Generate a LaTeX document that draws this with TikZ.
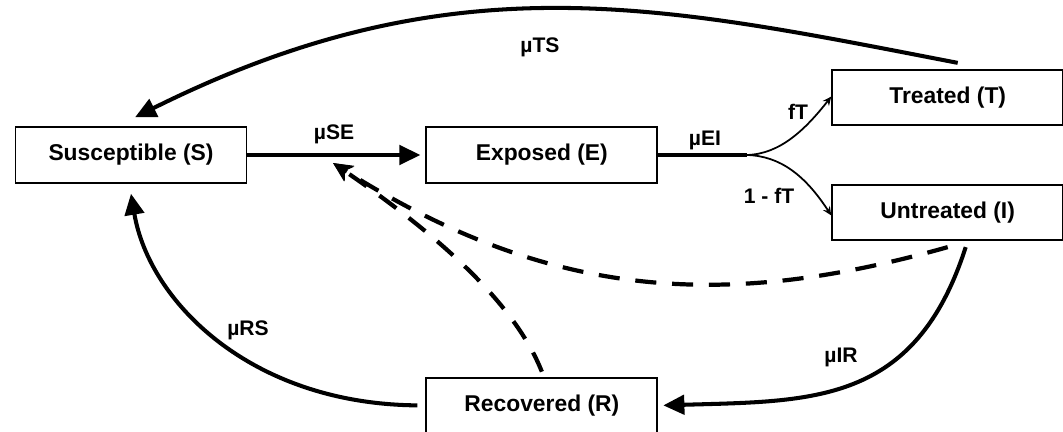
\documentclass[tikz,border=0pt]{standalone}
\usepackage{fontspec}
\setmainfont{Liberation Sans}
\usetikzlibrary{positioning, arrows.meta, calc}

\begin{document}
\begin{tikzpicture}[x=0.02cm, y=-0.02cm]
    \tikzstyle{compnode} = [draw=black, line width=1.1pt, minimum width=4.62cm, minimum height=1.11cm, inner sep=3pt, font=\fontsize{13}{15}\selectfont\bfseries]
    \tikzstyle{rate} = [inner sep=1pt, font=\fontsize{12}{14}\selectfont\bfseries]
    \tikzstyle{flow} = [-{Triangle[length=12pt,width=11pt]}, line width=2.3pt]
    \tikzstyle{branch} = [-{Stealth[length=5pt,width=4.5pt]}, line width=1pt]
    \tikzstyle{feedback} = [-{Stealth[length=11pt,width=10pt,inset=3pt]}, line width=2.4pt, dash pattern=on 12pt off 9pt]

    \useasboundingbox (0,0) rectangle (1063,432);

    \node [compnode] (sus) at (131,155) {Susceptible (S)};
    \node [compnode, anchor=west] (exp) at ([xshift=3.56cm]sus.east) {Exposed (E)};
    \node [compnode, anchor=south west] (trt) at ([xshift=3.46cm]exp.north east) {Treated (T)};
    \node [compnode, anchor=north west] (unt) at ([xshift=3.46cm]exp.south east) {Untreated (I)};
    \node [compnode, anchor=north] (rec) at ([yshift=-3.86cm]exp.south) {Recovered (R)};
    \coordinate (fork) at (747,155);
    \coordinate (infl) at (333,163);

    \node [rate] (lse) at (334,134) {µSE};
    \node [rate] (lei) at (705,140) {µEI};
    \node [rate] (lft) at (798,112) {fT};
    \node [rate] (lnt) at (769,196) {1 - fT};
    \node [rate] (lts) at (540,47) {µTS};
    \node [rate] (lir) at (841,357) {µIR};
    \node [rate] (lrs) at (248,330) {µRS};

    \draw [flow, shorten >=0.1cm] (sus.east) -- (exp.west);
    \draw [line width=2.8pt] (exp.east) -- (fork);
    \draw [branch] (fork) .. controls (780,154) and (805,130) .. ([yshift=0.02cm]trt.west);
    \draw [branch] (fork) .. controls (780,156) and (805,175) .. ([yshift=-0.06cm]unt.west);

    \draw [flow] ([xshift=0.2cm,yshift=0.12cm]trt.north) .. controls (663,6) and (455,-42) .. ([xshift=0.08cm,yshift=0.18cm]sus.north);
    \draw [flow] ([xshift=0.36cm,yshift=-0.12cm]unt.south) .. controls (915,405) and (812,401) .. ([xshift=0.1cm]rec.east);
    \draw [flow] ([xshift=-0.16cm]rec.west) .. controls (250,404) and (149,301) .. ([yshift=-0.2cm]sus.south);

    \draw [feedback] ([yshift=-0.12cm]unt.south) .. controls (728,309) and (553,302) .. (infl);
    \draw [feedback] ([yshift=0.1cm]rec.north) .. controls (517,309) and (450,243) .. (infl);
\end{tikzpicture}
\end{document}
